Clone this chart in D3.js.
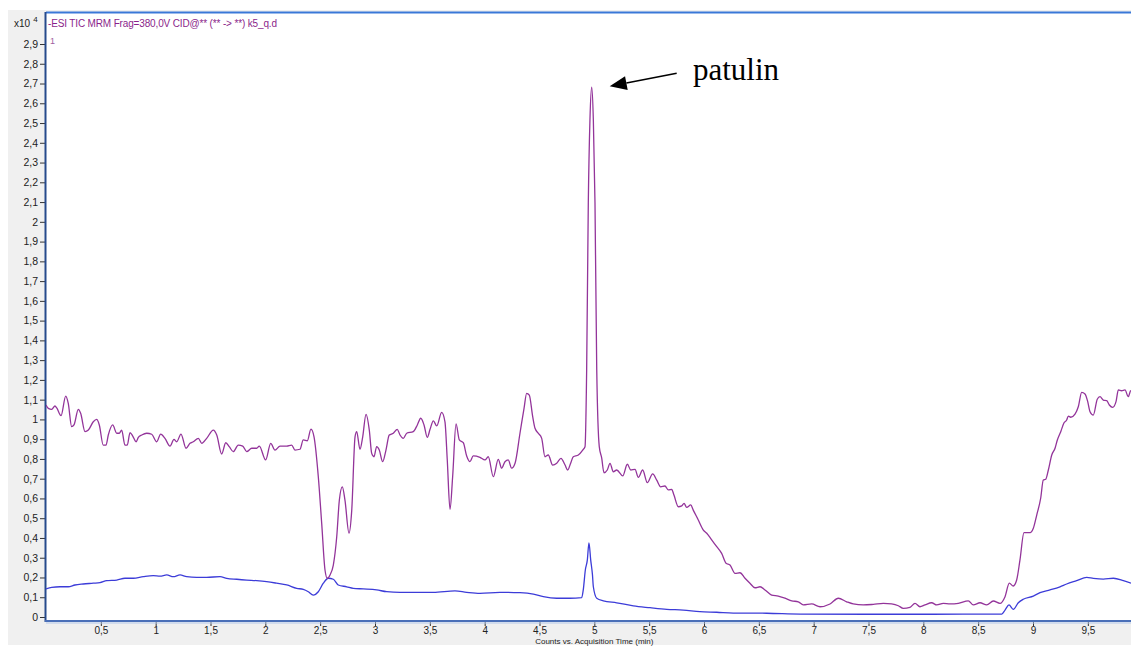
<!DOCTYPE html>
<html>
<head>
<meta charset="utf-8">
<script src="https://cdn.jsdelivr.net/npm/d3@7"></script>
<style>
  body { margin: 0; background: #fff; }
  svg { display: block; }
  .tick text { font-family: "Liberation Sans", Arial, sans-serif; font-size: 10.5px; fill: #222; }
  .x-axis .tick text { font-size: 10px; }
</style>
</head>
<body>
<svg id="chart"></svg>
<script>
// TIC trace (purple), time in min, counts in x10^4
const ticTime = [0, 0.021, 0.052, 0.082, 0.098, 0.137, 0.180, 0.203, 0.234, 0.255, 0.295, 0.316, 0.356, 0.386, 0.431, 0.462, 0.486, 0.522, 0.547, 0.568, 0.608, 0.645, 0.668, 0.690, 0.720, 0.741, 0.766, 0.791, 0.821, 0.842, 0.873, 0.918, 0.964, 1.009, 1.046, 1.085, 1.131, 1.167, 1.192, 1.231, 1.277, 1.313, 1.343, 1.389, 1.420, 1.465, 1.526, 1.557, 1.602, 1.639, 1.671, 1.708, 1.753, 1.794, 1.830, 1.876, 1.921, 1.945, 2.003, 2.049, 2.088, 2.134, 2.195, 2.240, 2.270, 2.316, 2.346, 2.383, 2.416, 2.444, 2.483, 2.514, 2.544, 2.565, 2.590, 2.620, 2.651, 2.675, 2.702, 2.726, 2.763, 2.788, 2.818, 2.833, 2.863, 2.888, 2.918, 2.948, 2.970, 2.991, 3.015, 3.039, 3.070, 3.100, 3.130, 3.167, 3.203, 3.228, 3.258, 3.289, 3.349, 3.386, 3.417, 3.447, 3.477, 3.502, 3.532, 3.563, 3.608, 3.638, 3.659, 3.684, 3.708, 3.739, 3.769, 3.805, 3.836, 3.866, 3.896, 3.957, 4.003, 4.033, 4.079, 4.124, 4.155, 4.185, 4.215, 4.246, 4.277, 4.322, 4.359, 4.383, 4.407, 4.438, 4.459, 4.489, 4.520, 4.550, 4.580, 4.620, 4.657, 4.696, 4.733, 4.757, 4.784, 4.808, 4.854, 4.894, 4.915, 4.930, 4.945, 4.960, 4.976, 4.991, 5.006, 5.022, 5.045, 5.067, 5.088, 5.118, 5.143, 5.173, 5.204, 5.259, 5.301, 5.332, 5.371, 5.401, 5.441, 5.483, 5.532, 5.569, 5.605, 5.644, 5.675, 5.706, 5.726, 5.766, 5.797, 5.818, 5.842, 5.879, 5.902, 5.948, 5.994, 6.025, 6.070, 6.116, 6.161, 6.201, 6.237, 6.283, 6.328, 6.374, 6.419, 6.465, 6.511, 6.556, 6.617, 6.677, 6.739, 6.800, 6.860, 6.905, 6.982, 7.058, 7.149, 7.225, 7.301, 7.361, 7.452, 7.544, 7.635, 7.711, 7.772, 7.817, 7.878, 7.924, 7.969, 8.015, 8.076, 8.122, 8.182, 8.243, 8.319, 8.410, 8.456, 8.517, 8.578, 8.638, 8.699, 8.745, 8.784, 8.820, 8.851, 8.881, 8.918, 8.973, 9.003, 9.034, 9.070, 9.094, 9.116, 9.140, 9.171, 9.201, 9.222, 9.253, 9.283, 9.307, 9.322, 9.344, 9.383, 9.413, 9.444, 9.474, 9.499, 9.520, 9.550, 9.586, 9.611, 9.641, 9.672, 9.696, 9.726, 9.757, 9.778, 9.808, 9.839, 9.869, 9.891, 9.920];
const ticCounts = [1.073, 1.056, 1.051, 1.068, 1.058, 1.019, 1.118, 1.081, 0.963, 0.972, 1.051, 1.031, 0.938, 0.946, 0.988, 1.000, 0.972, 0.870, 0.870, 0.921, 0.972, 0.930, 0.930, 0.946, 0.870, 0.870, 0.933, 0.916, 0.887, 0.909, 0.921, 0.930, 0.925, 0.887, 0.926, 0.904, 0.865, 0.899, 0.887, 0.926, 0.854, 0.879, 0.887, 0.904, 0.879, 0.904, 0.946, 0.921, 0.825, 0.882, 0.862, 0.837, 0.870, 0.865, 0.837, 0.854, 0.854, 0.865, 0.795, 0.879, 0.845, 0.865, 0.865, 0.870, 0.845, 0.849, 0.896, 0.892, 0.951, 0.912, 0.710, 0.474, 0.238, 0.196, 0.213, 0.263, 0.406, 0.592, 0.659, 0.592, 0.424, 0.541, 0.912, 0.938, 0.849, 0.912, 1.026, 0.946, 0.828, 0.811, 0.862, 0.845, 0.786, 0.845, 0.921, 0.930, 0.950, 0.921, 0.904, 0.930, 0.938, 0.972, 1.006, 0.972, 0.909, 0.950, 0.993, 0.967, 1.036, 0.988, 0.795, 0.545, 0.710, 0.977, 0.896, 0.882, 0.815, 0.786, 0.815, 0.808, 0.795, 0.811, 0.710, 0.798, 0.753, 0.786, 0.795, 0.753, 0.778, 0.930, 1.056, 1.132, 1.123, 1.014, 0.955, 0.930, 0.904, 0.811, 0.820, 0.769, 0.778, 0.803, 0.769, 0.744, 0.778, 0.811, 0.820, 0.845, 0.862, 1.250, 2.095, 2.515, 2.681, 2.515, 2.095, 1.250, 0.862, 0.805, 0.730, 0.744, 0.778, 0.735, 0.744, 0.714, 0.773, 0.744, 0.747, 0.707, 0.744, 0.680, 0.724, 0.693, 0.659, 0.663, 0.643, 0.646, 0.617, 0.558, 0.562, 0.575, 0.555, 0.567, 0.541, 0.491, 0.440, 0.424, 0.390, 0.356, 0.322, 0.272, 0.263, 0.221, 0.224, 0.196, 0.171, 0.148, 0.153, 0.137, 0.111, 0.106, 0.095, 0.082, 0.077, 0.061, 0.066, 0.052, 0.066, 0.095, 0.077, 0.066, 0.061, 0.064, 0.069, 0.066, 0.057, 0.044, 0.049, 0.069, 0.052, 0.061, 0.072, 0.061, 0.069, 0.066, 0.069, 0.082, 0.061, 0.072, 0.061, 0.081, 0.069, 0.103, 0.171, 0.157, 0.187, 0.288, 0.427, 0.427, 0.449, 0.516, 0.601, 0.693, 0.697, 0.744, 0.820, 0.854, 0.896, 0.938, 0.983, 0.997, 1.017, 1.011, 1.027, 1.064, 1.137, 1.129, 1.090, 1.039, 1.022, 1.102, 1.115, 1.098, 1.095, 1.073, 1.061, 1.090, 1.149, 1.145, 1.149, 1.115, 1.145, 1.140];

// second trace (blue)
const mrmTime = [0, 0.052, 0.128, 0.203, 0.264, 0.340, 0.431, 0.492, 0.554, 0.645, 0.720, 0.796, 0.887, 0.978, 1.040, 1.101, 1.161, 1.222, 1.283, 1.374, 1.465, 1.587, 1.648, 1.739, 1.830, 1.921, 2.012, 2.104, 2.195, 2.286, 2.346, 2.392, 2.437, 2.483, 2.529, 2.574, 2.620, 2.665, 2.742, 2.802, 2.893, 3.015, 3.107, 3.228, 3.380, 3.532, 3.729, 3.836, 3.957, 4.140, 4.322, 4.444, 4.535, 4.657, 4.778, 4.885, 4.899, 4.918, 4.936, 4.951, 4.967, 4.983, 4.991, 5.022, 5.082, 5.204, 5.356, 5.508, 5.660, 5.811, 5.963, 6.116, 6.267, 6.572, 6.876, 7.484, 8.091, 8.715, 8.745, 8.781, 8.820, 8.866, 8.911, 9.003, 9.064, 9.155, 9.246, 9.307, 9.398, 9.490, 9.550, 9.641, 9.733, 9.824, 9.894];
const mrmCounts = [0.142, 0.150, 0.153, 0.153, 0.162, 0.167, 0.171, 0.174, 0.184, 0.187, 0.196, 0.196, 0.204, 0.209, 0.207, 0.213, 0.204, 0.213, 0.204, 0.201, 0.201, 0.204, 0.196, 0.191, 0.187, 0.184, 0.179, 0.171, 0.162, 0.145, 0.140, 0.128, 0.111, 0.128, 0.171, 0.196, 0.191, 0.162, 0.153, 0.145, 0.142, 0.137, 0.128, 0.125, 0.125, 0.125, 0.132, 0.125, 0.120, 0.125, 0.123, 0.116, 0.103, 0.095, 0.095, 0.098, 0.137, 0.238, 0.288, 0.375, 0.288, 0.213, 0.153, 0.095, 0.082, 0.072, 0.056, 0.047, 0.039, 0.035, 0.027, 0.024, 0.020, 0.019, 0.015, 0.014, 0.014, 0.015, 0.035, 0.061, 0.039, 0.072, 0.090, 0.106, 0.123, 0.137, 0.153, 0.167, 0.184, 0.201, 0.196, 0.192, 0.196, 0.184, 0.171];

const yTicks = d3.range(0, 30).map((i) => i / 10);
const xTicks = d3.range(1, 20).map((i) => i / 2);

const titleText = "-ESI TIC MRM Frag=380,0V CID@** (** -> **) k5_q.d";
const xTitle = "Counts vs. Acquisition Time (min)";
const peakLabel = "patulin";

const width = 1131;
const height = 646;
const plot = { left: 46, right: 1131, top: 13, bottom: 621 };

const svg = d3.select("#chart").attr("width", width).attr("height", height);

// panel backgrounds
svg.append("rect").attr("x", 8).attr("y", 10).attr("width", width - 8).attr("height", 635).attr("fill", "#f0f0f0");
svg.append("rect")
  .attr("x", plot.left).attr("y", plot.top)
  .attr("width", plot.right - plot.left).attr("height", plot.bottom - plot.top)
  .attr("fill", "#fff");

const x = d3.scaleLinear().domain([0, 9]).range([46, 1033]);
const y = d3.scaleLinear().domain([0, 2.9]).range([617, 44]);

const comma = (d) => d3.format("")(+d.toFixed(1)).replace(".", ",");

// y axis
const yAxis = svg.append("g")
  .attr("transform", `translate(${plot.left - 1},0)`)
  .call(d3.axisLeft(y).tickValues(yTicks).tickSize(5).tickPadding(2).tickFormat(comma));
yAxis.select(".domain").remove();
yAxis.selectAll(".tick line").attr("stroke", "#333");

// x axis
const xAxis = svg.append("g")
  .attr("class", "x-axis")
  .attr("transform", `translate(0,${plot.bottom + 1})`)
  .call(d3.axisBottom(x).tickValues(xTicks).tickSize(4).tickPadding(1).tickFormat(comma));
xAxis.select(".domain").remove();
xAxis.selectAll(".tick line").attr("stroke", "#333");

// frame lines
svg.append("line").attr("x1", plot.left).attr("x2", width).attr("y1", 12.5).attr("y2", 12.5)
  .attr("stroke", "#3a78d8").attr("stroke-width", 2);
svg.append("line").attr("x1", plot.left - 0.5).attr("x2", plot.left - 0.5).attr("y1", 12).attr("y2", plot.bottom + 1)
  .attr("stroke", "#264a8c").attr("stroke-width", 2);
svg.append("line").attr("x1", plot.left - 1).attr("x2", width).attr("y1", plot.bottom).attr("y2", plot.bottom)
  .attr("stroke", "#4a6fb8").attr("stroke-width", 2);
svg.append("line").attr("x1", plot.left).attr("x2", width).attr("y1", plot.bottom + 2).attr("y2", plot.bottom + 2)
  .attr("stroke", "#b4c8ea").attr("stroke-width", 1);

// traces
svg.append("clipPath").attr("id", "clip").append("rect")
  .attr("x", plot.left).attr("y", plot.top + 1)
  .attr("width", plot.right - plot.left).attr("height", plot.bottom - plot.top - 2);

const line = d3.line().x((d) => x(d[0])).y((d) => y(d[1])).curve(d3.curveMonotoneX);

const traces = svg.append("g").attr("clip-path", "url(#clip)");
traces.append("path")
  .datum(d3.zip(mrmTime, mrmCounts))
  .attr("d", line)
  .attr("fill", "none")
  .attr("stroke", "#3c3cd8")
  .attr("stroke-width", 1.3);
traces.append("path")
  .datum(d3.zip(ticTime, ticCounts))
  .attr("d", line)
  .attr("fill", "none")
  .attr("stroke", "#93349a")
  .attr("stroke-width", 1.3);

// labels
svg.append("text").attr("x", 48).attr("y", 26.5)
  .attr("font-family", "Liberation Sans, Arial, sans-serif").attr("font-size", 10)
  .attr("textLength", 229).attr("fill", "#8b1f8b").text(titleText);
const mult = svg.append("text").attr("x", 14).attr("y", 26.5)
  .attr("font-family", "Liberation Sans, Arial, sans-serif").attr("font-size", 10).attr("fill", "#222");
mult.append("tspan").text("x10");
mult.append("tspan").attr("dx", 3).attr("dy", -5).attr("font-size", 8).text("4");
svg.append("text").attr("x", 50).attr("y", 44)
  .attr("font-family", "Liberation Sans, Arial, sans-serif").attr("font-size", 9)
  .attr("fill", "#a060a0").text("1");

svg.append("text").attr("x", x(5)).attr("y", 644).attr("text-anchor", "middle")
  .attr("font-family", "Liberation Sans, Arial, sans-serif").attr("font-size", 8)
  .attr("fill", "#222").text(xTitle);

// peak annotation
const peakIdx = d3.maxIndex(ticCounts);
const tip = [x(ticTime[peakIdx]) + 18, y(ticCounts[peakIdx]) - 1];
const tail = [tip[0] + 67, tip[1] - 13];
const ang = Math.atan2(tail[1] - tip[1], tail[0] - tip[0]);
const headLen = 17, headW = 7;
const bx = tip[0] + headLen * Math.cos(ang), by = tip[1] + headLen * Math.sin(ang);
svg.append("line").attr("x1", tail[0]).attr("y1", tail[1]).attr("x2", bx).attr("y2", by)
  .attr("stroke", "#000").attr("stroke-width", 1.6);
svg.append("polygon")
  .attr("points", [
    tip,
    [bx + headW * Math.sin(ang), by - headW * Math.cos(ang)],
    [bx - headW * Math.sin(ang), by + headW * Math.cos(ang)],
  ].map((p) => p.join(",")).join(" "))
  .attr("fill", "#000");
svg.append("text").attr("x", 693).attr("y", 80)
  .attr("font-family", "Liberation Serif, Times New Roman, serif").attr("font-size", 31)
  .attr("fill", "#000").text(peakLabel);
</script>
</body>
</html>
